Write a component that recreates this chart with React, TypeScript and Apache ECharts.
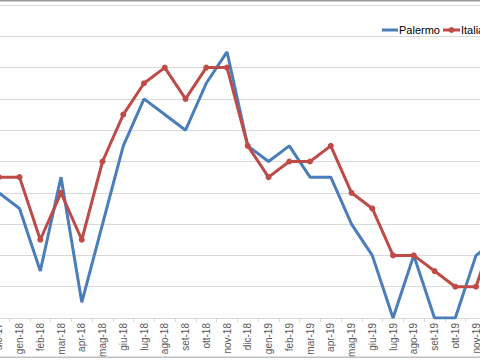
import React, { useEffect, useRef } from "react";
import * as echarts from "echarts";

const categories = [
  "dic-17", "gen-18", "feb-18", "mar-18", "apr-18", "mag-18", "giu-18", "lug-18",
  "ago-18", "set-18", "ott-18", "nov-18", "dic-18", "gen-19", "feb-19", "mar-19",
  "apr-19", "mag-19", "giu-19", "lug-19", "ago-19", "set-19", "ott-19", "nov-19", "dic-19",
];
const palermo = [4.0, 3.5, 1.5, 4.5, 0.5, 3.0, 5.5, 7.0, 6.5, 6.0, 7.5, 8.5, 5.5, 5.0, 5.5, 4.5, 4.5, 3.0, 2.0, 0, 2.0, 0, 0, 2.0, 2.5];
const italia = [4.5, 4.5, 2.5, 4.0, 2.5, 5.0, 6.5, 7.5, 8.0, 7.0, 8.0, 8.0, 5.5, 4.5, 5.0, 5.0, 5.5, 4.0, 3.5, 2.0, 2.0, 1.5, 1.0, 1.0, 3.0];
const seriesNames = ["Palermo", "Italia"];

const OFFSET = 20;
const CW = 540;
const BLUE = "#4A7EBB";
const RED = "#BE4B48";

export default function App() {
  const ref = useRef<HTMLDivElement>(null);
  useEffect(() => {
    if (!ref.current) return;
    const chart = echarts.init(ref.current, null, { renderer: "svg" });
    const font = "Liberation Sans, Arial";
    chart.setOption({
      animation: false,
      backgroundColor: "#fff",
      grid: { left: 8.4, right: 12.85, top: 5, bottom: 42, containLabel: false },
      xAxis: {
        type: "category",
        data: categories,
        boundaryGap: true,
        axisLine: { show: true, lineStyle: { color: "#D9D9D9", width: 1 } },
        axisTick: { show: true, length: 4, interval: 0, lineStyle: { color: "#D9D9D9" } },
        axisLabel: {
          interval: 0,
          rotate: 90,
          fontSize: 10,
          margin: 5,
          color: "#595959",
          fontFamily: font,
        },
        splitLine: { show: false },
      },
      yAxis: {
        type: "value",
        min: 0,
        max: 10,
        interval: 1,
        axisLabel: { show: false },
        axisLine: { show: false },
        axisTick: { show: false },
        splitLine: { show: true, lineStyle: { color: "#D9D9D9", width: 1 } },
      },
      series: [
        {
          name: seriesNames[0],
          type: "line",
          data: palermo,
          symbol: "none",
          lineStyle: { color: BLUE, width: 3 },
          itemStyle: { color: BLUE },
          z: 2,
        },
        {
          name: seriesNames[1],
          type: "line",
          data: italia,
          symbol: "circle",
          symbolSize: 6,
          lineStyle: { color: RED, width: 3 },
          itemStyle: { color: RED },
          z: 3,
        },
      ],
      graphic: [
        { type: "rect", shape: { x: 0, y: 0, width: CW, height: 1.5 }, style: { fill: "#9a9a9a" }, silent: true },
        { type: "rect", shape: { x: 0, y: 356.5, width: CW, height: 1.5 }, style: { fill: "#BFBFBF" }, silent: true },
        { type: "line", shape: { x1: 382 + OFFSET, y1: 30, x2: 398 + OFFSET, y2: 30 }, style: { stroke: BLUE, lineWidth: 3 }, z: 10 },
        { type: "text", x: 399 + OFFSET, y: 30, style: { text: seriesNames[0], fill: "#000", font: `11px ${font}`, textVerticalAlign: "middle", verticalAlign: "middle" }, z: 10 },
        { type: "line", shape: { x1: 443 + OFFSET, y1: 30, x2: 460 + OFFSET, y2: 30 }, style: { stroke: RED, lineWidth: 3 }, z: 10 },
        { type: "circle", shape: { cx: 451.5 + OFFSET, cy: 30, r: 3 }, style: { fill: RED }, z: 11 },
        { type: "text", x: 461 + OFFSET, y: 30, style: { text: seriesNames[1], fill: "#000", font: `11px ${font}`, textVerticalAlign: "middle", verticalAlign: "middle" }, z: 10 },
      ],
    });
    return () => chart.dispose();
  }, []);
  return (
    <div style={{ position: "absolute", left: 0, top: 0, width: 480, height: 360, overflow: "hidden", background: "#fff" }}>
      <div ref={ref} style={{ position: "absolute", left: -OFFSET, top: 0, width: CW, height: 360 }} />
    </div>
  );
}
